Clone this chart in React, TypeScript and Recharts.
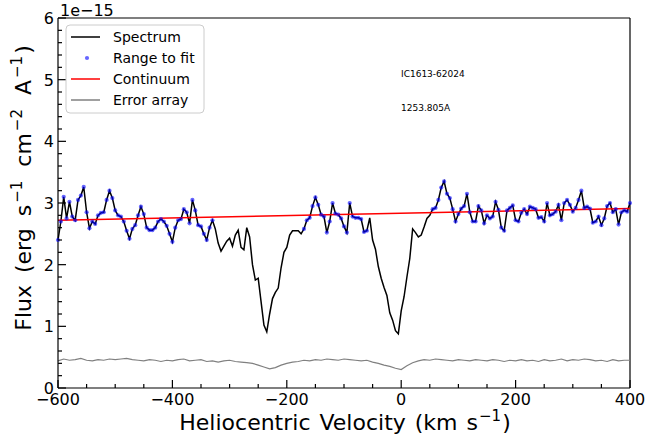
import { ComposedChart, Line, Scatter, XAxis, YAxis, ReferenceLine } from "recharts"

// spectrum sampled every 5 km/s from -600 to 400, flux in units of 1e-15
const VEL_START = -600
const VEL_STEP = 5
const spectrum = [
  2.40, 2.70, 3.10, 2.75, 3.02, 2.78, 2.72, 3.05, 3.12, 3.26, 2.85, 2.59, 2.70, 2.66, 2.80, 2.84, 2.85, 3.05, 3.20, 3.08,
  2.88, 2.80, 2.78, 2.70, 2.55, 2.42, 2.58, 2.64, 2.80, 2.94, 2.82, 2.60, 2.56, 2.56, 2.60, 2.70, 2.74, 2.70, 2.63, 2.50,
  2.37, 2.60, 2.72, 2.74, 2.90, 2.85, 2.67, 3.05, 2.88, 2.64, 2.62, 2.50, 2.40, 2.60, 2.72, 2.58, 2.35, 2.22, 2.30, 2.38,
  2.43, 2.30, 2.48, 2.56, 2.28, 2.24, 2.60, 2.45, 2.00, 1.75, 1.78, 1.40, 1.02, 0.91, 1.20, 1.45, 1.55, 1.62, 1.95, 2.20,
  2.28, 2.48, 2.55, 2.55, 2.55, 2.50, 2.58, 2.72, 2.76, 2.95, 3.09, 2.97, 2.81, 2.78, 2.52, 2.70, 3.00, 2.83, 2.81, 2.75,
  2.62, 2.52, 3.00, 2.78, 2.76, 2.76, 2.74, 2.53, 2.55, 2.76, 2.40, 2.25, 1.97, 1.78, 1.63, 1.50, 1.22, 1.10, 0.93, 0.88,
  1.25, 1.48, 1.80, 2.10, 2.58, 2.52, 2.45, 2.48, 2.61, 2.75, 2.80, 2.90, 2.92, 3.05, 3.25, 3.35, 3.15, 3.08, 2.90, 2.70,
  2.82, 2.91, 2.95, 3.15, 2.85, 2.70, 2.70, 2.95, 2.88, 2.67, 2.80, 2.75, 2.78, 3.02, 2.89, 2.60, 2.55, 2.88, 2.92, 2.96,
  2.72, 2.70, 2.84, 2.90, 2.82, 2.94, 2.92, 2.90, 2.76, 2.77, 2.70, 3.00, 2.80, 2.82, 2.86, 2.97, 2.72, 3.00, 3.05, 2.97,
  2.86, 2.92, 3.05, 3.20, 2.92, 2.94, 2.91, 2.68, 2.70, 2.78, 2.64, 2.75, 2.95, 3.00, 2.85, 2.90, 2.65, 2.85, 2.88, 2.86,
  3.00,
]

// error array every 10 km/s
const ERR_STEP = 10
const errorArray = [
  0.44, 0.47, 0.45, 0.46, 0.48, 0.45, 0.44, 0.46, 0.45, 0.47, 0.46,
  0.47, 0.48, 0.46, 0.45, 0.44, 0.46, 0.45, 0.43, 0.45, 0.44,
  0.46, 0.47, 0.44, 0.45, 0.46, 0.43, 0.44, 0.42, 0.44, 0.45,
  0.43, 0.42, 0.41, 0.40, 0.37, 0.34, 0.31, 0.33, 0.37, 0.40,
  0.42, 0.43, 0.45, 0.44, 0.46, 0.45, 0.47, 0.46, 0.45, 0.47,
  0.46, 0.45, 0.44, 0.45, 0.42, 0.40, 0.37, 0.35, 0.32, 0.30,
  0.36, 0.41, 0.44, 0.46, 0.45, 0.47, 0.46, 0.45, 0.44, 0.46,
  0.45, 0.44, 0.46, 0.45, 0.44, 0.46, 0.45, 0.43, 0.45, 0.44,
  0.46, 0.44, 0.45, 0.43, 0.46, 0.44, 0.45, 0.47, 0.44, 0.46,
  0.45, 0.47, 0.46, 0.44, 0.45, 0.43, 0.46, 0.44, 0.45, 0.45,
]

const continuumVel = [-600, 400]
const continuumFlux = [2.72, 2.91]

const fitRanges = [
  [-600, -330],
  [-170, -60],
  [55, 400],
]

const xTicks = [
  -600, -550, -500, -450, -400, -350, -300, -250, -200, -150, -100, -50,
  0, 50, 100, 150, 200, 250, 300, 350, 400,
]
const yTicks = Array.from({ length: 31 }, (_, i) => i / 5)

const specData = spectrum.map((f, i) => ({ v: VEL_START + i * VEL_STEP, flux: f }))
const fitData = specData.filter((d) => fitRanges.some(([a, b]) => d.v >= a && d.v <= b))
const errData = errorArray.map((f, i) => ({ v: VEL_START + i * ERR_STEP, flux: f }))
const contData = continuumVel.map((v, i) => ({ v, flux: continuumFlux[i] }))

const FONT = "DejaVu Sans, sans-serif"

const fmt = (v: number) => (v < 0 ? "\u2212" + Math.abs(v) : String(v))

function XTick(props: any) {
  const { x, y, payload } = props
  const major = payload.value % 200 === 0
  return (
    <g>
      <line x1={x} x2={x} y1={y} y2={y - (major ? 8 : 4)} stroke="#000" strokeWidth={1.2} />
      {major && (
        <text x={x} y={y + 17} textAnchor="middle" fontSize={16} fontFamily={FONT} fill="#000">
          {fmt(payload.value)}
        </text>
      )}
    </g>
  )
}

function YTick(props: any) {
  const { x, y, payload } = props
  const major = Math.abs(payload.value - Math.round(payload.value)) < 1e-6
  return (
    <g>
      <line x1={x} x2={x + (major ? 8 : 4)} y1={y} y2={y} stroke="#000" strokeWidth={1.2} />
      {major && (
        <text x={x - 4} y={y + 6} textAnchor="end" fontSize={16} fontFamily={FONT} fill="#000">
          {Math.round(payload.value)}
        </text>
      )}
    </g>
  )
}

const dot = (p: any) => <circle cx={p.cx} cy={p.cy} r={2.1} fill="#0000ff" fillOpacity={0.6} />

const legendItems = [
  { label: "Spectrum", kind: "line", color: "#000000" },
  { label: "Range to fit", kind: "dot", color: "#0000ff" },
  { label: "Continuum", kind: "line", color: "#ff0000" },
  { label: "Error array", kind: "line", color: "#808080" },
]

export default function App() {
  return (
    <div style={{ position: "absolute", left: 0, top: 0, width: 658, height: 436, background: "#fff" }}>
      <ComposedChart width={658} height={436} margin={{ top: 18, right: 28, bottom: 18, left: 28 }}>
        <XAxis
          dataKey="v"
          type="number"
          domain={[-600, 400]}
          ticks={xTicks}
          interval={0}
          tickSize={0}
          tickMargin={0}
          tickLine={false}
          tick={<XTick />}
          height={30}
          axisLine={{ stroke: "#000", strokeWidth: 1.2 }}
        />
        <YAxis
          type="number"
          domain={[0, 6]}
          ticks={yTicks}
          interval={0}
          tickSize={0}
          tickMargin={0}
          tickLine={false}
          tick={<YTick />}
          width={30}
          axisLine={{ stroke: "#000", strokeWidth: 1.2 }}
        />
        <ReferenceLine y={6} stroke="#000" strokeWidth={1.2} />
        <ReferenceLine x={400} stroke="#000" strokeWidth={1.2} />
        <Line data={specData} dataKey="flux" type="linear" stroke="#000" strokeWidth={1.5} dot={false} isAnimationActive={false} />
        <Scatter data={fitData} dataKey="flux" shape={dot} isAnimationActive={false} />
        <Line data={contData} dataKey="flux" type="linear" stroke="#ff0000" strokeWidth={1.5} dot={false} isAnimationActive={false} />
        <Line data={errData} dataKey="flux" type="linear" stroke="#808080" strokeWidth={1.2} dot={false} isAnimationActive={false} />
      </ComposedChart>
      <svg width={658} height={436} style={{ position: "absolute", left: 0, top: 0, pointerEvents: "none" }} fontFamily={FONT}>
        <text x={60} y={16} fontSize={16}>1e{"\u2212"}15</text>
        <text x={401} y={77} fontSize={9}>IC1613-62024</text>
        <text x={401} y={111} fontSize={9}>1253.805A</text>
        <text x={345} y={430} fontSize={22} textAnchor="middle" wordSpacing={2}>
          Heliocentric Velocity (km s<tspan dx={1} dy={-9} fontSize={15}>{"\u2212"}1</tspan><tspan dx={1} dy={9}>)</tspan>
        </text>
        <text transform="translate(31,188) rotate(-90)" fontSize={22} textAnchor="middle" wordSpacing={5}>
          Flux (erg s<tspan dx={2} dy={-9} fontSize={15}>{"\u2212"}1</tspan>
          <tspan dx={2} dy={9}> cm</tspan><tspan dx={2} dy={-9} fontSize={15}>{"\u2212"}2</tspan>
          <tspan dx={2} dy={9}> A</tspan><tspan dx={2} dy={-9} fontSize={15}>{"\u2212"}1</tspan>
          <tspan dx={2} dy={9}>)</tspan>
        </text>
        <rect x={66} y={25} width={138} height={88} rx={4} fill="#fff" fillOpacity={0.8} stroke="#cccccc" />
        {legendItems.map((it, i) => {
          const cy = 37 + i * 21
          return (
            <g key={it.label}>
              {it.kind === "line" ? (
                <line x1={71} x2={100} y1={cy} y2={cy} stroke={it.color} strokeWidth={1.5} />
              ) : (
                <circle cx={87} cy={cy} r={2.1} fill={it.color} fillOpacity={0.6} />
              )}
              <text x={113} y={cy + 5} fontSize={14}>{it.label}</text>
            </g>
          )
        })}
      </svg>
    </div>
  )
}
